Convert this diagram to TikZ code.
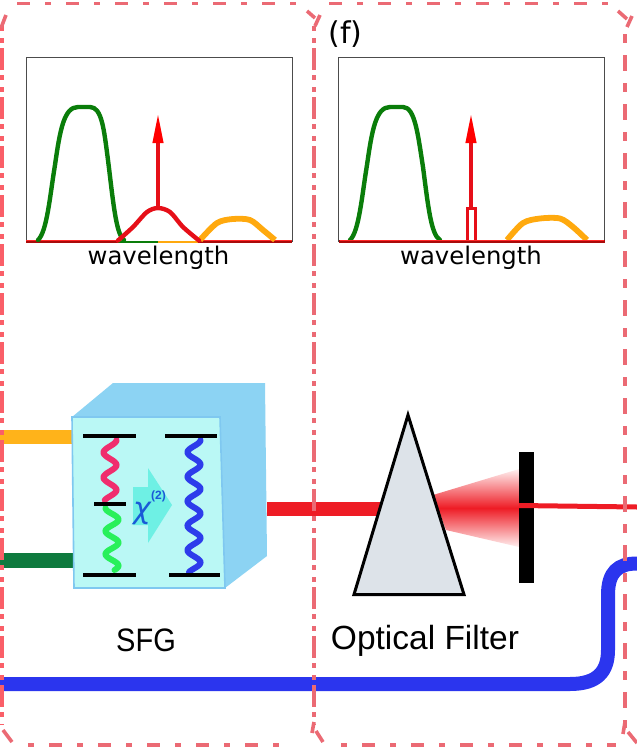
\documentclass[tikz,border=0pt]{standalone}
\usepackage{fontspec}
\setmainfont{Liberation Sans}
\newfontfamily\plotfont{DejaVu Sans}
\usetikzlibrary{arrows.meta}
\definecolor{boxpink}{HTML}{EB6A74}
\definecolor{boxbright}{HTML}{FA5F68}
\definecolor{cgreen}{HTML}{0A7D0A}
\definecolor{cred}{HTML}{E60F18}
\definecolor{corange}{HTML}{FFA90E}
\definecolor{darkred}{HTML}{AA0A0A}
\definecolor{beamred}{HTML}{EE1C25}
\definecolor{beamblue}{HTML}{2B35EE}
\definecolor{beamorange}{HTML}{FFB31A}
\definecolor{beamgreen}{HTML}{0E7A3E}
\definecolor{cubeside}{HTML}{8CD3F3}
\definecolor{cubefront}{HTML}{BAF8F5}
\definecolor{cubeedge}{HTML}{7FC8F0}
\definecolor{arrowcyan}{HTML}{6EF0E4}
\definecolor{wavepink}{HTML}{F02D6E}
\definecolor{wavegreen}{HTML}{28F05A}
\definecolor{waveblue}{HTML}{2D3CEB}
\definecolor{chiblue}{HTML}{195AD7}
\definecolor{prismgrey}{HTML}{DDE3E9}
\tikzset{
  x=1pt,y=-1pt,
  hdash/.style={draw=boxpink,line width=3.6pt,dash pattern=on 13pt off 15pt on 6pt off 15pt},
  vdashdense/.style={draw=boxpink,line width=3.6pt,dash pattern=on 22pt off 5pt on 5pt off 7pt on 5pt off 5pt},
  vdashsparse/.style={draw=boxpink,line width=3.6pt,dash pattern=on 16pt off 12pt on 9pt off 12pt},
  cornerpink/.style={draw=boxpink,line width=3.6pt},
  frameline/.style={draw=black!70,line width=0.8pt},
  curve/.style={line width=4.4pt,line join=round,line cap=round},
  greencurve/.style={curve,draw=cgreen},
  redcurve/.style={curve,draw=cred},
  orangecurve/.style={line width=5.8pt,line join=round,line cap=butt,draw=corange},
  level/.style={draw=black,line width=3.8pt},
  wave/.style={line width=6pt,line cap=round},
  beam/.style={line width=14.5pt},
  plotlabel/.style={font=\plotfont\fontsize{24.3}{24.3}\selectfont,inner sep=0pt},
  sflabel/.style={inner sep=0pt},
  spike/.style={draw=cred,line width=4pt,-{Triangle[length=30pt,width=10pt,fill=red,color=red]}},
}
\begin{document}
\begin{tikzpicture}
\useasboundingbox (0,0) rectangle (637,748);
% beams
\coordinate (orangeL) at (0,437); \coordinate (orangeR) at (73,437);
\coordinate (greenL) at (0,560.5); \coordinate (greenR) at (75,560.5);
\coordinate (redL) at (267,509); \coordinate (redR) at (385,509);
\draw[beam,draw=beamorange] (orangeL) -- (orangeR);
\draw[beam,draw=beamgreen] (greenL) -- (greenR);
\draw[beam,draw=beamred] (redL) -- (redR);
% cube
\fill[cubeside] (72,417) -- (113,383) -- (265,383) -- (267,556) -- (225,588) -- cycle;
\filldraw[fill=cubefront,draw=cubeedge,line width=1.6pt] (72,417) -- (220,417) -- (225,588) -- (74,588) -- cycle;
\fill[arrowcyan] (133,487) -- (148,487) -- (148,468) -- (172,505) -- (148,543) -- (148,525) -- (133,525) -- cycle;
\draw[wave,draw=wavepink] plot[smooth,samples=90,domain=0:60] ({110+6.5*cos(14.4*\x)},{440+\x});
\draw[wave,draw=wavegreen] plot[smooth,samples=90,domain=0:62] ({112-6.5*cos(15.6*\x)},{508+\x});
\draw[wave,draw=waveblue] plot[smooth,samples=180,domain=0:132] ({194+6.5*cos(14.7*\x)},{440+\x});
\draw[level] (83,436) -- (136,436);
\draw[level] (165,436) -- (217,436);
\draw[level] (94,504) -- (126,504);
\draw[level] (83,575) -- (136,575);
\draw[level] (169,575) -- (220,575);
\node[sflabel,text=chiblue] (chi) at (142,513) {\plotfont\itshape\fontsize{30}{30}\selectfont χ};
\node[sflabel,text=chiblue,anchor=west] (chisup) at (151,496) {\fontsize{12}{12}\selectfont\bfseries (2)};
% fan, prism, block
\shade[top color=red!6,bottom color=red!6,middle color=beamred] (433,495) -- (519,469) -- (519,547) -- (446,530) -- cycle;
\filldraw[fill=prismgrey,draw=black,line width=3pt,line join=miter] (408,415) -- (464,594.5) -- (354,594.5) -- cycle;
\fill[black] (518.5,452) rectangle (534,583);
\coordinate (thinL) at (519,505.5); \coordinate (thinR) at (637,507);
\draw[draw=beamred,line width=5pt] (thinL) -- (thinR);
% blue line
\draw[draw=beamblue,line width=14pt] (0,684) -- (570,684) .. controls (597,684) and (608,672) .. (608,650) -- (608,595) .. controls (608,572) and (618,563.5) .. (637,563.5);
% plot 1
\draw[frameline] (26,57) rectangle (292,241);
\draw[line width=2pt,draw=cgreen] (118,241.5) -- (158,241.5);
\draw[line width=2pt,draw=corange] (158,241.5) -- (198,241.5);
\draw[line width=2.2pt,draw=darkred] (26,241.5) -- (118,241.5) (198,241.5) -- (292,241.5);
\draw[line width=1.2pt,draw=red!85!white] (26,240.5) -- (118,240.5) (198,240.5) -- (292,240.5);
\draw[greencurve] (38,240) .. controls (47,232) and (50,195) .. (55,165) .. controls (60,130) and (64,107) .. (78,107) -- (90,107) .. controls (102,107) and (104,130) .. (108,160) .. controls (113,200) and (116,235) .. (124,240);
\draw[orangecurve] plot[smooth] coordinates {(200,240) (217,223) (233,219) (250,220) (263,230) (275,240)};
\draw[redcurve] plot[smooth] coordinates {(118,240.5) (133,227) (147,212) (158,208) (170,212) (183,227) (199,240.5)};
\draw[spike] (158,208) -- (158,113);
\node[plotlabel] (w1) at (158.5,257.5) {wavelength};
% plot 2
\draw[frameline] (338.5,57) rectangle (604.5,241);
\draw[greencurve] (350,240) .. controls (359,232) and (362,195) .. (367,165) .. controls (372,130) and (376,107) .. (390,107) -- (403,107) .. controls (415,107) and (418,135) .. (423,167) .. controls (428,205) and (431,235) .. (440,240);
\draw[orangecurve] plot[smooth] coordinates {(507,240) (523,223) (540,218.5) (560,218.5) (573,227) (587,240)};
\draw[line width=2.2pt,draw=darkred] (338.5,241.5) -- (604.5,241.5);
\draw[line width=1.2pt,draw=red!85!white] (340,240.5) -- (604,240.5);
\draw[redcurve,line width=3.6pt,line cap=butt,line join=miter] (467.5,240) -- (467.5,208.5) -- (475.5,208.5) -- (475.5,240);
\draw[spike] (471,208) -- (471,113);
\node[plotlabel] (w2) at (471,257.5) {wavelength};
\node[plotlabel] (ftag) at (345.5,34) {\fontsize{30}{30}\selectfont(f)};
% labels
\node[sflabel] (sfg) at (146,640) {\scalebox{1}[1.12]{\fontsize{29}{29}\selectfont SFG}};
\node[sflabel] (filter) at (425,641) {\fontsize{33.5}{33.5}\selectfont Optical Filter};
% dashed boxes
\draw[hdash] (17,3.5) -- (300,3.5);
\draw[hdash] (329,3.5) -- (612,3.5);
\draw[hdash,dash phase=26] (26,745) -- (292,745);
\draw[hdash,dash phase=28] (341,745) -- (616,745);
\draw[vdashdense,draw=boxbright,dash phase=27] (2,26) -- (2,725);
\draw[vdashdense,dash phase=27] (314,26) -- (314,725);
\draw[vdashsparse,dash phase=24] (625,30) -- (625,728);
% corners
\draw[cornerpink] (307,11) -- (315,18) (320,15) -- (315,26);
\draw[cornerpink] (618,11) -- (627,19) (632,16) -- (627,27);
\draw[cornerpink] (6,15) -- (1,28);
\draw[cornerpink] (312,733) -- (314,722) (316,731) -- (323,742);
\draw[cornerpink] (3,730) -- (12,742);
\draw[cornerpink] (623,734) -- (625,722) (628,732) -- (637,743);
\end{tikzpicture}
\end{document}
